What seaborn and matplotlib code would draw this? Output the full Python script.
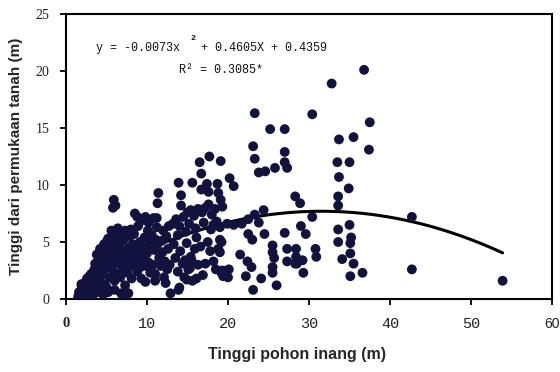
import numpy as np
import pandas as pd
import matplotlib
matplotlib.use("Agg")
import matplotlib.pyplot as plt
import seaborn as sns

# ---------------- data ----------------
# host tree height (x, m) and height above ground (y, m)
x_left = [1.5, 1.6, 1.8, 2.0, 2.1, 2.3, 2.4, 1.9, 2.5, 2.6, 2.8, 3.0, 3.1, 3.2, 3.4, 2.9, 3.3, 3.5,
          3.6, 3.7, 3.8, 3.9, 4.0, 4.1, 4.2, 4.3, 4.4, 4.5, 3.8, 4.2, 4.6, 4.7, 4.8, 4.9, 5.0, 5.1,
          5.2, 5.3, 5.4, 5.5, 4.9, 5.2, 4.6, 5.0, 5.6, 5.7, 5.8, 5.9, 6.1, 5.7, 5.8, 5.9, 6.0, 6.1,
          6.2, 6.3, 6.4, 6.5, 6.0, 6.3, 6.6, 6.7, 6.8, 6.9, 7.0, 7.1, 7.2, 7.3, 7.4, 7.5, 6.8, 7.0,
          7.3, 7.6, 7.7, 7.8, 7.9, 8.0, 8.1, 8.2, 8.3, 8.4, 8.5, 8.6, 7.7, 8.0, 8.7, 8.8, 8.9, 9.0,
          9.1, 9.2, 9.3, 9.4, 9.5, 8.8, 9.2, 9.0, 9.6, 9.7, 9.8, 9.9, 10.0, 10.1, 10.2, 10.3, 10.4,
          10.5, 9.8, 10.2, 10.6, 10.7, 10.8, 10.9, 11.0, 11.1, 11.2, 11.3, 11.4, 11.5, 11.0, 11.3,
          11.2, 11.7, 11.8, 11.9, 12.0, 12.1, 12.2, 12.4, 12.5, 12.6, 12.8, 12.9, 12.7, 12.3]
y_left = [0.2, 0.6, 0.3, 1.0, 0.5, 1.4, 0.2, 1.3, 0.8, 1.8, 0.5, 1.2, 2.2, 0.9, 1.6, 2.0, 0.3, 2.6,
          3.1, 1.2, 2.0, 0.6, 3.6, 2.5, 1.6, 3.0, 0.9, 4.0, 3.9, 4.4, 2.2, 4.8, 1.3, 3.4, 5.0, 2.8,
          0.6, 4.3, 1.9, 3.8, 4.6, 5.3, 0.4, 1.0, 6.0, 5.5, 8.0, 8.7, 8.2, 2.6, 4.5, 3.3, 1.6, 5.0,
          4.0, 2.2, 6.2, 3.1, 0.8, 5.6, 4.6, 1.9, 5.9, 3.7, 2.6, 5.2, 4.1, 1.2, 3.3, 5.8, 0.5, 0.3,
          6.0, 2.3, 4.5, 3.0, 5.5, 3.8, 1.8, 4.8, 2.9, 5.7, 7.5, 3.5, 0.5, 6.1, 4.2, 2.4, 6.4, 3.1,
          5.0, 3.8, 1.8, 6.9, 4.5, 7.2, 2.8, 4.4, 3.4, 5.4, 7.2, 2.9, 4.0, 6.0, 3.2, 5.0, 2.3,
          4.6, 1.5, 6.7, 5.6, 3.0, 7.1, 4.3, 2.2, 5.2, 6.3, 8.4, 9.3, 3.6, 1.6, 4.8,
          7.1, 2.9, 5.1, 4.1, 6.0, 1.9, 3.3, 5.5, 2.6, 4.4, 3.0, 0.5, 6.4, 1.4]

x_mid = [13.9, 15.6, 16.5, 16.7, 17.7, 19.1, 17.4, 16.7, 17.6, 14.2, 14.2, 18.7, 18.8, 19.1, 19.3,
         13.2, 13.6, 14.0, 14.5, 15.0, 15.4, 15.8, 16.3, 16.8, 17.2, 17.6, 18.0, 18.4, 18.6, 17.0,
         16.0, 15.2, 14.8, 13.8, 17.9, 18.2, 13.3, 13.5, 13.8, 14.1, 14.4, 14.6, 14.9, 15.1, 15.4,
         15.6, 15.9, 16.1, 16.3, 16.6, 16.9, 17.2, 17.5, 17.8, 18.2, 18.5, 18.8, 19.0, 19.2, 19.4,
         14.0, 13.9, 15.5, 14.7, 15.3, 16.1, 14.9]
y_mid = [10.2, 10.2, 12.0, 11.0, 12.5, 12.1, 10.1, 9.6, 9.4, 9.1, 8.2, 10.1, 9.3, 8.7, 8.1,
         6.6, 7.0, 6.4, 7.2, 7.6, 7.8, 7.3, 7.9, 7.6, 8.0, 8.3, 7.4, 7.9, 6.8, 6.7,
         6.2, 6.6, 5.9, 5.6, 6.1, 6.5, 4.8, 3.6, 2.4, 4.2, 3.1, 1.9, 4.9, 2.6, 3.7,
         1.6, 4.4, 5.4, 3.0, 4.6, 2.1, 3.1, 5.0, 4.2, 3.3, 2.6, 4.4, 5.2, 2.3, 2.0,
         1.0, 0.8, 3.4, 3.4, 2.7, 1.8, 1.7]

x_right = [19.9, 19.0, 20.7, 21.7, 22.5, 23.3, 24.4, 23.8, 22.5, 23.0, 24.5, 19.2, 19.0, 21.5,
           22.4, 22.9, 19.3, 20.1, 20.0, 22.2, 24.1, 26.0, 23.1, 27.0, 25.5, 25.5, 25.7, 25.5,
           25.5, 27.3, 28.4, 28.4, 27.3, 28.3, 28.3, 28.9, 23.3, 25.2, 27.0, 23.1, 27.0, 23.3,
           27.0, 27.3, 23.8, 24.6, 25.8, 20.2, 20.7,
           36.8, 32.8, 30.4, 37.5, 33.7, 35.5, 37.4, 33.5, 35.0, 33.7, 34.9, 33.6, 33.6, 30.4,
           42.7, 29.0, 35.0, 33.6, 29.6, 35.2, 35.1, 33.6, 30.8, 30.9, 35.1, 34.1, 29.2, 28.5,
           35.5, 29.3, 35.1, 36.6, 42.7, 53.9]
y_right = [6.6, 6.3, 6.5, 6.6, 7.0, 7.4, 7.8, 6.7, 5.7, 5.2, 5.7, 5.0, 4.1, 3.9,
           3.3, 2.8, 2.5, 2.6, 1.9, 2.0, 1.8, 1.2, 0.8, 5.8, 4.7, 4.1, 3.6, 2.8,
           2.3, 4.4, 4.4, 3.7, 3.3, 3.1, 9.0, 8.4, 16.3, 14.9, 14.9, 13.4, 12.9, 12.3,
           12.0, 11.5, 11.1, 11.2, 11.5, 10.6, 9.9,
           20.1, 18.9, 16.2, 15.5, 14.0, 14.2, 13.1, 12.0, 12.0, 10.7, 9.7, 9.0, 8.2, 7.2,
           7.2, 6.4, 6.5, 6.1, 5.7, 5.4, 4.9, 5.0, 4.4, 3.7, 4.0, 3.5, 3.4, 3.1,
           3.1, 2.3, 2.0, 2.3, 2.6, 1.6]

# quadratic trend line coefficients as printed on the chart
trend_coefs = [-0.0073, 0.4605, 0.4359]
equation_text = "y = -0.0073x   + 0.4605X + 0.4359"
r2_text = "R\u00b2 = 0.3085*"

x_ticks = [0, 10, 20, 30, 40, 50, 60]
y_ticks = [0, 5, 10, 15, 20, 25]
x_label = "Tinggi pohon inang (m)"
y_label = "Tinggi dari permukaan tanah (m)"

# ---------------- plotting ----------------
sns.set_style("white")
plt.rcParams["font.family"] = ["Liberation Sans", "DejaVu Sans"]

host = x_left + x_mid + x_right
epi = y_left + y_mid + y_right
df = pd.DataFrame({"host": host, "epi": epi})

fig = plt.figure(figsize=(5.6, 3.72), dpi=100)
W, H = 560, 372
ax = fig.add_axes([66 / W, 1 - 299 / H, (552 - 66) / W, (299 - 14) / H])

POINT = "#12123e"
sns.scatterplot(data=df, x="host", y="epi", ax=ax, s=50, color=POINT,
                edgecolor="none", linewidth=0, zorder=3, legend=False)

xs = np.linspace(min(host), max(host), 200)
ys = np.polyval(trend_coefs, xs)
sns.lineplot(x=xs, y=ys, ax=ax, color="black", linewidth=2.2, zorder=2)

ax.set_xlim(0, 60)
ax.set_ylim(0, 25)
ax.set_xticks(x_ticks)
ax.set_yticks(y_ticks)
ax.set_xlabel("")
ax.set_ylabel("")

xt = ax.set_xticklabels([str(v) for v in x_ticks])
for v, lab in zip(x_ticks, xt):
    if v == 0:
        lab.set_fontfamily("Liberation Serif")
        lab.set_fontweight("bold")
        lab.set_fontsize(10.5)
    elif v == 60:
        lab.set_fontfamily("Liberation Sans")
        lab.set_fontsize(10)
    else:
        lab.set_fontfamily("Liberation Mono")
        lab.set_fontsize(11)
    lab.set_color("#222222")
yt = ax.set_yticklabels([str(v) for v in y_ticks])
for lab in yt:
    lab.set_fontfamily("Liberation Serif")
    lab.set_fontsize(10)
    lab.set_color("#222222")

for side, sp in ax.spines.items():
    sp.set_visible(True)
    sp.set_color("black")
    sp.set_linewidth(1.5)
ax.tick_params(axis="both", direction="out", length=4, width=1.3, color="black",
               left=True, bottom=True)
ax.tick_params(axis="x", pad=9)
ax.tick_params(axis="y", pad=8)

fig.text(297 / W, 1 - 355 / H, x_label, ha="center", va="center",
         fontsize=11.5, fontweight="bold", family="Liberation Sans")
fig.text(16 / W, 1 - 156 / H, y_label, ha="center", va="center", rotation=90,
         fontsize=11, fontweight="bold", family="Liberation Sans")

fig.text(96 / W, 1 - 48 / H, equation_text, ha="left", va="center",
         fontsize=8.5, family="Liberation Mono", color="#111111")
fig.text(193 / W, 1 - 38 / H, "2", ha="center", va="center",
         fontsize=6, fontweight="bold", family="Liberation Mono", color="#111111")
fig.text(179 / W, 1 - 70 / H, r2_text, ha="left", va="center",
         fontsize=8.5, family="Liberation Mono", color="#111111")

fig.savefig("out.png", dpi=100, facecolor="white")
